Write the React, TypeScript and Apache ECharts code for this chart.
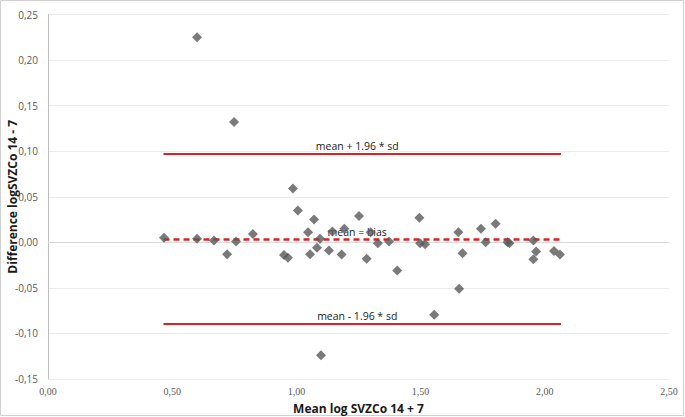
import React, { useEffect, useRef } from "react";
import * as echarts from "echarts";

const meanValues = [
  0.467, 0.6, 0.6, 0.668, 0.721, 0.749, 0.757, 0.825, 0.95, 0.966, 0.986, 1.006,
  1.047, 1.055, 1.071, 1.083, 1.095, 1.099, 1.131, 1.145, 1.182, 1.193, 1.252, 1.283,
  1.299, 1.328, 1.373, 1.406, 1.495, 1.498, 1.518, 1.555, 1.652, 1.655, 1.669, 1.743,
  1.762, 1.802, 1.85, 1.858, 1.954, 1.954, 1.965, 2.037, 2.061,
];
const diffValues = [
  0.005, 0.225, 0.004, 0.002, -0.013, 0.132, 0.001, 0.009, -0.014, -0.017, 0.059, 0.035,
  0.011, -0.013, 0.025, -0.006, 0.004, -0.124, -0.009, 0.012, -0.0135, 0.015, 0.029, -0.018,
  0.011, -0.001, 0.001, -0.031, 0.027, -0.001, -0.002, -0.0795, 0.011, -0.051, -0.012, 0.015,
  0.0, 0.0205, 0.0, -0.001, 0.002, -0.0187, -0.01, -0.0096, -0.0135,
];
const bias = 0.0035;
const upperLimit = 0.097;
const lowerLimit = -0.089;
const lineStart = 0.465;
const lineEnd = 2.065;
const upperLabel = "mean + 1.96 * sd";
const biasLabel = "mean = bias";
const lowerLabel = "mean - 1.96 * sd";
const xTitle = "Mean log SVZCo 14 + 7";
const yTitle = "Difference logSVZCo 14 - 7";

const fmt = (v: number) => v.toFixed(2).replace(".", ",");

export default function App() {
  const ref = useRef<HTMLDivElement>(null);
  useEffect(() => {
    document.body.style.margin = "0";
    if (!ref.current) return;
    const chart = echarts.init(ref.current, undefined, { renderer: "svg" });
    const points = meanValues.map((x, i) => [x, diffValues[i]]);
    const labelStyle = {
      show: true,
      position: "middle" as const,
      color: "#1a1a1a",
      fontSize: 10.5,
      fontFamily: "Open Sans, sans-serif",
      distance: 2,
      padding: [0, 10, 0, 0],
    };
    const ml = (y: number, text: string, type: any, width: number) => ({
      silent: true,
      symbol: ["none", "none"],
      animation: false,
      data: [
        [
          { coord: [lineStart, y], label: { ...labelStyle, formatter: text }, lineStyle: { color: "#e02020", width, type } },
          { coord: [lineEnd, y] },
        ],
      ],
    });
    chart.setOption({
      animation: false,
      backgroundColor: "#ffffff",
      grid: { left: 48, right: 16, top: 14.5, bottom: 38, containLabel: false, outerBoundsMode: "none" },
      graphic: [
        {
          type: "rect",
          shape: { x: 0.5, y: 0.5, width: 683, height: 415 },
          style: { fill: "none", stroke: "#d0d0d0", lineWidth: 1 },
          silent: true,
        },
      ],
      xAxis: {
        type: "value",
        min: 0,
        max: 2.5,
        interval: 0.5,
        name: xTitle,
        nameLocation: "middle",
        nameGap: 23,
        nameTextStyle: { fontWeight: "bold", fontSize: 12, color: "#1a1a1a", fontFamily: "Open Sans, sans-serif" },
        axisLine: { show: true, lineStyle: { color: "#d9d9d9" } },
        axisTick: { show: false },
        splitLine: { show: false },
        axisLabel: { formatter: fmt, color: "#595959", fontSize: 10, margin: 7, fontFamily: "Liberation Serif, serif" },
      },
      yAxis: {
        type: "value",
        min: -0.15,
        max: 0.25,
        interval: 0.05,
        name: yTitle,
        nameLocation: "middle",
        nameGap: 30,
        nameMoveOverlap: false,
        nameTextStyle: { fontWeight: "bold", fontSize: 12, color: "#1a1a1a", fontFamily: "Open Sans, sans-serif" },
        axisLine: { show: true, onZero: false, lineStyle: { color: "#bfbfbf" } },
        axisTick: { show: false },
        splitLine: { show: true, lineStyle: { color: "#ececec", width: 1 } },
        axisLabel: { formatter: fmt, color: "#595959", fontSize: 10, margin: 10, fontFamily: "Open Sans, sans-serif" },
      },
      series: [
        { type: "line", data: [], markLine: ml(upperLimit, upperLabel, "solid", 2) },
        { type: "line", data: [], markLine: ml(lowerLimit, lowerLabel, "solid", 2) },
        { type: "line", data: [], markLine: ml(bias, biasLabel, [6, 4], 2.5) },
        {
          type: "scatter",
          data: points,
          symbol: "diamond",
          symbolSize: 10,
          itemStyle: { color: "#595959" },
          z: 5,
        },
      ],
    });
    return () => chart.dispose();
  }, []);
  return <div ref={ref} style={{ width: 685, height: 417 }} />;
}
